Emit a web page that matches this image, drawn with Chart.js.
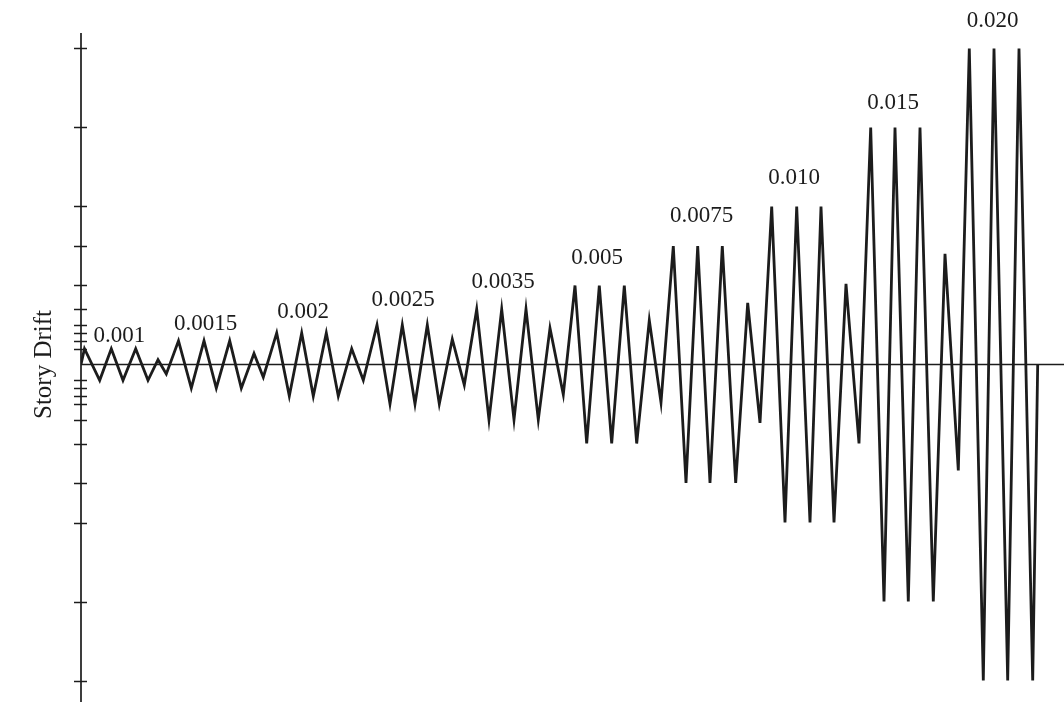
<!DOCTYPE html>
<html>
<head>
<meta charset="utf-8">
<script src="https://cdn.jsdelivr.net/npm/chart.js@4.4.1/dist/chart.umd.min.js"></script>
<style>
  html, body { margin: 0; padding: 0; background: #ffffff; }
  #wrap { width: 1064px; height: 702px; position: relative; }
</style>
</head>
<body>
<div id="wrap"><canvas id="c"></canvas></div>
<script>
// Loading protocol: time of each turning point (arbitrary steps) and story drift there.
const time = [
  0, 3.5, 18.7, 30.3, 42, 54.7, 67, 77, 85.3,
  97.5, 110.3, 123, 135.3, 148.7, 160.3, 173, 182.3,
  195.7, 208.3, 220.7, 232.3, 245.3, 257.3, 270.7, 282.3,
  296, 309, 321.3, 334, 346.3, 358.3, 371.3, 383.3,
  395.7, 408, 420.7, 433, 445, 457.3, 469, 482.3,
  494, 505.7, 518.3, 530.7, 543.3, 555.7, 568.3, 580,
  592.3, 605, 616.7, 629, 641.3, 654.7, 666.7, 679,
  690.7, 704, 715.7, 729, 740, 753, 765, 778,
  789.7, 803, 814, 827.3, 839, 852.3, 864, 877.3,
  888.3, 902.3, 913, 926.7, 938, 951.7, 956.7
];
const drift = [
  0, 0.001, -0.001, 0.001, -0.001, 0.001, -0.001, 0.0003, -0.0006,
  0.0015, -0.0015, 0.0015, -0.0015, 0.0015, -0.0015, 0.0007, -0.0008,
  0.002, -0.002, 0.002, -0.002, 0.002, -0.002, 0.001, -0.001,
  0.0025, -0.0025, 0.0025, -0.0025, 0.0025, -0.0025, 0.0016, -0.0013,
  0.0035, -0.0035, 0.0035, -0.0035, 0.0035, -0.0035, 0.0023, -0.0019,
  0.005, -0.005, 0.005, -0.005, 0.005, -0.005, 0.0028, -0.0024,
  0.0075, -0.0075, 0.0075, -0.0075, 0.0075, -0.0075, 0.0039, -0.0037,
  0.010, -0.010, 0.010, -0.010, 0.010, -0.010, 0.0051, -0.0050,
  0.015, -0.015, 0.015, -0.015, 0.015, -0.015, 0.0070, -0.0067,
  0.020, -0.020, 0.020, -0.020, 0.020, -0.020, 0
];
// Target drift of each group of cycles; also used for the axis ticks.
const levels = [0.001, 0.0015, 0.002, 0.0025, 0.0035, 0.005, 0.0075, 0.010, 0.015, 0.020];
const levelLabels = ['0.001', '0.0015', '0.002', '0.0025', '0.0035', '0.005', '0.0075', '0.010', '0.015', '0.020'];
const axisTitle = 'Story Drift';

const points = time.map((t, i) => ({ x: t, y: drift[i] }));

// Label placement above the middle peak of each group (pixels).
const labelLift = [13, 17, 21, 25.5, 27, 27.5, 30, 29, 24.5, 28];
const labelNudge = [8, 1.5, 1.3, 0.7, 1.3, -2.3, 4, -2.7, -2, -1.5];
const INK = '#1c1c1c';
const SERIF = '"Liberation Serif", "DejaVu Serif", serif';

const drawAxes = {
  id: 'driftAxes',
  beforeDatasetsDraw(chart) {
    const { ctx, chartArea: a, scales: { x, y } } = chart;
    ctx.save();
    ctx.strokeStyle = INK;
    ctx.lineWidth = 1.7;
    // vertical axis
    ctx.beginPath();
    ctx.moveTo(a.left, a.top);
    ctx.lineTo(a.left, a.bottom);
    ctx.stroke();
    // zero line
    const y0 = y.getPixelForValue(0);
    ctx.beginPath();
    ctx.moveTo(a.left, y0);
    ctx.lineTo(a.right, y0);
    ctx.stroke();
    // crossing ticks at every drift level, both directions
    ctx.lineWidth = 1.5;
    levels.forEach(v => {
      [v, -v].forEach(val => {
        const py = Math.round(y.getPixelForValue(val)) + 0.5;
        ctx.beginPath();
        ctx.moveTo(a.left - 7, py);
        ctx.lineTo(a.left + 6, py);
        ctx.stroke();
      });
    });
    ctx.restore();
  },
  afterDatasetsDraw(chart) {
    const { ctx, chartArea: a, scales: { x, y } } = chart;
    ctx.save();
    ctx.fillStyle = INK;
    ctx.font = '23px ' + SERIF;
    ctx.textAlign = 'center';
    ctx.textBaseline = 'middle';
    levels.forEach((v, g) => {
      const mid = 3 + 8 * g;
      const px = x.getPixelForValue(time[mid]) + labelNudge[g];
      const py = y.getPixelForValue(v) - labelLift[g];
      ctx.fillText(levelLabels[g], px, py);
    });
    // axis title
    ctx.translate(44, y.getPixelForValue(0));
    ctx.rotate(-Math.PI / 2);
    ctx.font = '25px ' + SERIF;
    ctx.fillText(axisTitle, 0, 0);
    ctx.restore();
  }
};

new Chart(document.getElementById('c'), {
  type: 'line',
  data: {
    datasets: [{
      data: points,
      borderColor: INK,
      borderWidth: 2.8,
      borderJoinStyle: 'miter',
      pointRadius: 0,
      tension: 0,
      fill: false
    }]
  },
  options: {
    responsive: true,
    maintainAspectRatio: false,
    animation: false,
    layout: { padding: { left: 81, top: 33, right: 0, bottom: 0 } },
    plugins: { legend: { display: false }, tooltip: { enabled: false } },
    scales: {
      x: { type: 'linear', min: 0, max: 983, display: false },
      y: { type: 'linear', min: -0.02136, max: 0.02098, display: false }
    }
  },
  plugins: [drawAxes]
});
</script>
</body>
</html>
